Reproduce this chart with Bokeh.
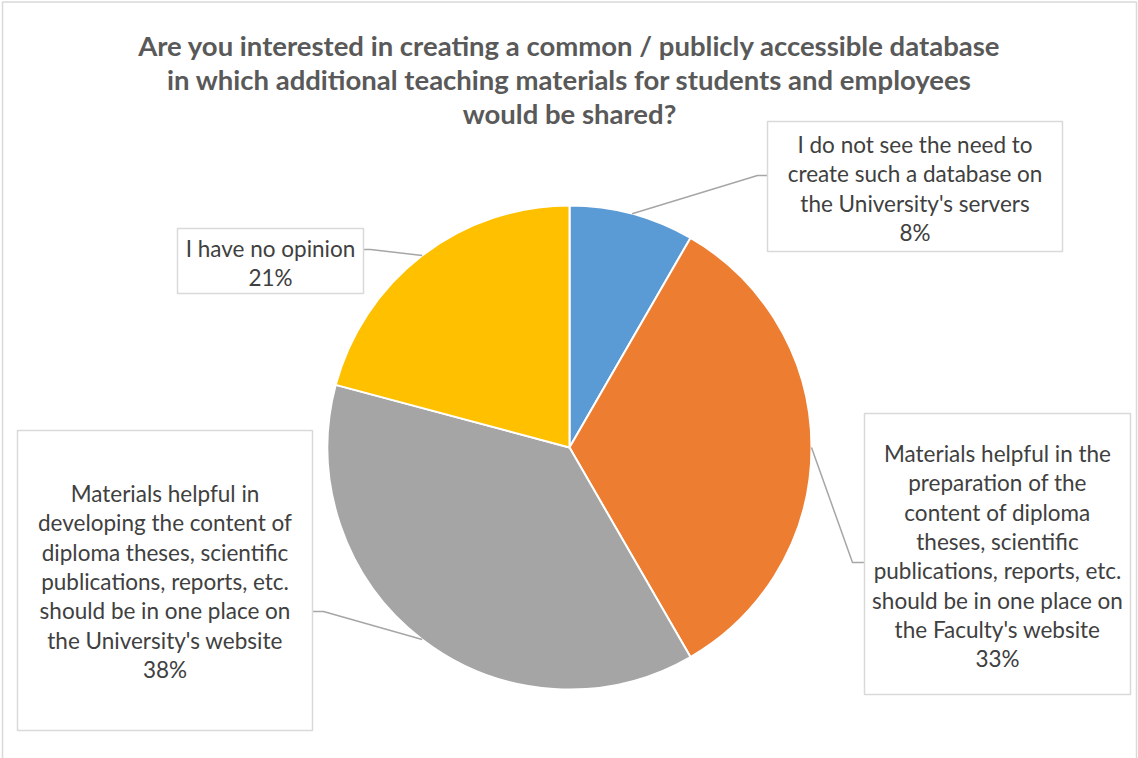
import math
from bokeh.plotting import figure
from bokeh.models import Range1d, ColumnDataSource
from bokeh.core.properties import value
from bokeh.embed import file_html
from bokeh.resources import INLINE

# ---- data ----
categories = [
    "I do not see the need to\ncreate such a database on\nthe University's servers",
    "Materials helpful in the\npreparation of the\ncontent of diploma\ntheses, scientific\npublications, reports, etc.\nshould be in one place on\nthe Faculty's website",
    "Materials helpful in\ndeveloping the content of\ndiploma theses, scientific\npublications, reports, etc.\nshould be in one place on\nthe University's website",
    "I have no opinion",
]
counts = [2, 8, 9, 5]
colors = ["#5B9BD5", "#ED7D31", "#A5A5A5", "#FFC000"]
title_lines = [
    "Are you interested in creating a common / publicly accessible database",
    "in which additional teaching materials for students and employees",
    "would be shared?",
]

# ---- layout (pixel-like coordinates, y downward negated) ----
W, H = 1138, 758
X0, Y0 = 0, 0
CX, CY, R = 569, 447, 242
FONT = "Lato"
LABEL_COLOR = "#404040"
TITLE_COLOR = "#595959"
LINE_H = 29.3

# label boxes: (left, top, right, bottom), first text line y, elbow point, end point
boxes = [
    dict(box=(767, 121, 1062, 251), ty=144, elbow=(757, 175), end=(767, 175)),
    dict(box=(864, 413, 1130, 694), ty=453, elbow=(852, 562), end=(864, 562)),
    dict(box=(17, 430, 312, 730), ty=493, elbow=(323, 611), end=(312, 611)),
    dict(box=(177, 228, 363, 293), ty=248, elbow=(370, 249), end=(363, 249)),
]

p = figure(width=W, height=H, output_backend="svg", toolbar_location=None,
           x_range=Range1d(X0, X0 + W), y_range=Range1d(-(Y0 + H), -Y0),
           min_border=0, min_border_left=0, min_border_right=0,
           min_border_top=0, min_border_bottom=0)
p.axis.visible = False
p.grid.visible = False
p.outline_line_color = None
p.background_fill_color = "white"
p.border_fill_color = "white"

# outer chart border (left, top, right)
p.line(x=[2, 2, 1136, 1136], y=[-770, -1.5, -1.5, -770], line_color="#D9D9D9", line_width=1.5)

# pie wedges
total = sum(counts)
starts, ends, mids = [], [], []
acc = 0
for c in counts:
    a0 = math.pi / 2 - 2 * math.pi * acc / total
    acc += c
    a1 = math.pi / 2 - 2 * math.pi * acc / total
    starts.append(a0)
    ends.append(a1)
    mids.append((a0 + a1) / 2)

src = ColumnDataSource(dict(start=starts, end=ends, color=colors))
p.wedge(x=CX, y=-CY, radius=R, start_angle="start", end_angle="end",
        direction="clock", fill_color="color", line_color="white", line_width=2,
        source=src)

# leader lines
for m, b in zip(mids, boxes):
    sx = CX + R * math.cos(m)
    sy = CY - R * math.sin(m)
    ex, ey = b["elbow"]
    fx, fy = b["end"]
    p.line(x=[sx, ex, fx], y=[-sy, -ey, -fy], line_color="#A6A6A6", line_width=1.5)

# label boxes and text
for cat, c, b in zip(categories, counts, boxes):
    l, t, r, btm = b["box"]
    p.quad(left=l, right=r, top=-t, bottom=-btm, fill_color="white",
           line_color="#D9D9D9", line_width=1.5)
    lines = cat.split("\n") + ["%d%%" % round(100 * c / total)]
    cx = (l + r) / 2
    ys = [-(b["ty"] + i * LINE_H) for i in range(len(lines))]
    p.text(x=[cx] * len(lines), y=ys, text=lines, text_align="center",
           text_baseline="middle", text_font=value(FONT), text_font_size="22.5px",
           text_color=LABEL_COLOR)

# title
tys = [-(45 + i * 34) for i in range(len(title_lines))]
p.text(x=[569] * len(title_lines), y=tys, text=title_lines, text_align="center",
       text_baseline="middle", text_font=value(FONT), text_font_size="27.5px",
       text_font_style="bold", text_color=TITLE_COLOR)

open("out.html", "w").write(file_html(p, INLINE))
